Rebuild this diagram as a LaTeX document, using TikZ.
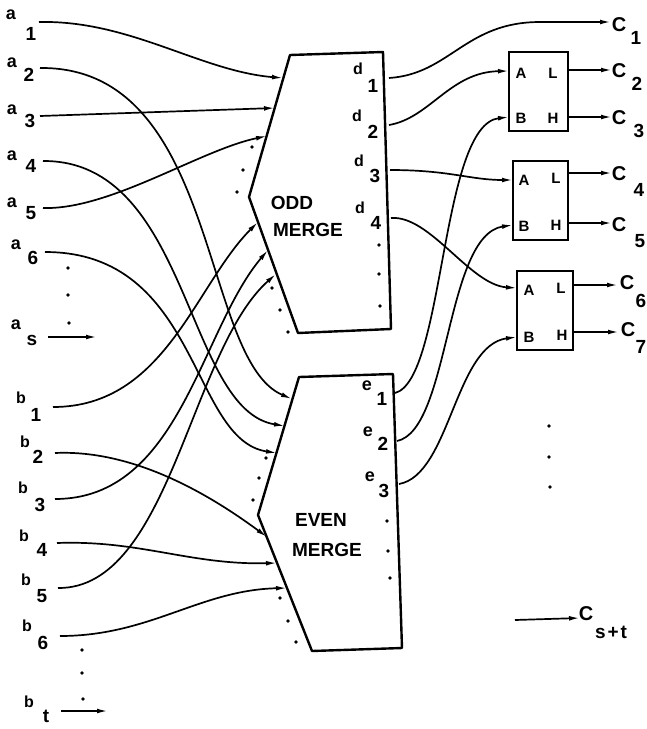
\documentclass[tikz,border=0pt]{standalone}
\usepackage{fontspec}
\setmainfont{Liberation Sans}
\usetikzlibrary{arrows.meta}
\begin{document}
\begin{tikzpicture}[x=1pt,y=-1pt,
  conn/.style={line width=1.7pt},
  arr/.style={conn,-{Latex[length=11pt,width=4.8pt]}},
  mergebox/.style={draw,line width=2.4pt,line join=round},
  cbox/.style={draw,line width=2pt,rectangle,inner sep=0pt},
  lbl/.style={inner sep=0pt,font=\fontsize{16}{16}\selectfont\bfseries},
  smlbl/.style={inner sep=0pt,font=\fontsize{18}{18}\selectfont\bfseries},
  sublbl/.style={inner sep=0pt,font=\fontsize{19}{19}\selectfont\bfseries},
  clbl/.style={inner sep=0pt,font=\fontsize{20}{20}\selectfont\bfseries},
  bigtxt/.style={inner sep=0pt,font=\fontsize{19}{19}\selectfont\bfseries},
  boxl/.style={inner sep=0pt,font=\fontsize{15}{15}\selectfont\bfseries},
  pt/.style={circle,fill,inner sep=0pt,minimum size=3.6pt},
]
\useasboundingbox (0,0) rectangle (647,729);

% ---------- merge blocks ----------
\draw[mergebox] (290,55) -- (383,52) -- (391,329) -- (298,333) -- (249,197) -- cycle;
\draw[mergebox] (299,377) -- (393,374) -- (402,648) -- (312,651) -- (258,515) -- cycle;
\node[bigtxt] (oddt) at (292,203) {ODD};
\node[bigtxt] (oddm) at (308,230) {MERGE};
\node[bigtxt] (event) at (321,520) {EVEN};
\node[bigtxt] (evenm) at (327,550) {MERGE};

% ports of odd merge
\coordinate (oi1) at (283,78);
\coordinate (oi2) at (275,108);
\coordinate (oi3) at (267,136);
\coordinate (oi4) at (258,222);
\coordinate (oi5) at (268,250);
\coordinate (oi6) at (276,274);
\coordinate (d1) at (389,78);
\coordinate (d2) at (389,125);
\coordinate (d3) at (390,170);
\coordinate (d4) at (391,218);
% ports of even merge
\coordinate (ei1) at (292,399);
\coordinate (ei2) at (285,426);
\coordinate (ei3) at (277,453);
\coordinate (ei4) at (267,537);
\coordinate (ei5) at (277,563);
\coordinate (ei6) at (287,588);
\coordinate (e1) at (395,393);
\coordinate (e2) at (397,441);
\coordinate (e3) at (399,484);

% d / e labels
\node[lbl] (ld1) at (358,69) {d};  \node[sublbl] (nd1) at (373,86) {1};
\node[lbl] (ld2) at (357,116) {d}; \node[sublbl] (nd2) at (373,132) {2};
\node[lbl] (ld3) at (359,161) {d}; \node[sublbl] (nd3) at (375,176) {3};
\node[lbl] (ld4) at (360,208) {d}; \node[sublbl] (nd4) at (376,223) {4};
\node[smlbl] (le1) at (367,386) {e};  \node[sublbl] (ne1) at (382,399) {1};
\node[smlbl] (le2) at (368,432) {e};  \node[sublbl] (ne2) at (383,444) {2};
\node[smlbl] (le3) at (370,477) {e};  \node[sublbl] (ne3) at (384,491) {3};

% dots
\foreach \x/\y in {252/147,243/170,237/192,272/288,280/310,288/332,
                   379/245,379/274,380/306,
                   266/458,259/478,253/500,280/598,288/621,296/642,
                   387/521,388/551,390/578,
                   68/268,68/295,69/323,82/650,82/673,83/699,
                   549/426,549/457,550/487}
  \node[pt] at (\x,\y) {};

% ---------- input labels ----------
\node[smlbl] (la1) at (11,15) {a};  \node[sublbl] (na1) at (31,34) {1};
\node[smlbl] (la2) at (12,63) {a};  \node[sublbl] (na2) at (29,75) {2};
\node[smlbl] (la3) at (12,110) {a}; \node[sublbl] (na3) at (30,121) {3};
\node[smlbl] (la4) at (12,156) {a}; \node[sublbl] (na4) at (31,166) {4};
\node[smlbl] (la5) at (12,203) {a}; \node[sublbl] (na5) at (31,213) {5};
\node[smlbl] (la6) at (16,245) {a}; \node[sublbl] (na6) at (33,258) {6};
\node[smlbl] (las) at (16,325) {a}; \node[sublbl] (nas) at (32,340) {s};
\node[lbl] (lb1) at (21,398) {b}; \node[sublbl] (nb1) at (36,415) {1};
\node[lbl] (lb2) at (25,442) {b}; \node[sublbl] (nb2) at (38,457) {2};
\node[lbl] (lb3) at (23,488) {b}; \node[sublbl] (nb3) at (40,505) {3};
\node[lbl] (lb4) at (24,536) {b}; \node[sublbl] (nb4) at (42,550) {4};
\node[lbl] (lb5) at (26,580) {b}; \node[sublbl] (nb5) at (42,596) {5};
\node[lbl] (lb6) at (27,626) {b}; \node[sublbl] (nb6) at (43,643) {6};
\node[lbl] (lbt) at (29,702) {b}; \node[sublbl] (nbt) at (46,716) {t};

\coordinate (a1) at (39,22);
\coordinate (a2) at (40,68);
\coordinate (a3) at (40,116);
\coordinate (a4) at (43,161);
\coordinate (a5) at (43,208);
\coordinate (a6) at (45,252);
\coordinate (as0) at (48,337); \coordinate (as1) at (97,337);
\coordinate (b1) at (53,407);
\coordinate (b2) at (55,453);
\coordinate (b3) at (55,499);
\coordinate (b4) at (57,543);
\coordinate (b5) at (58,588);
\coordinate (b6) at (60,636);
\coordinate (bt0) at (61,711); \coordinate (bt1) at (108,711);

% ---------- input connectors ----------
\draw[arr] (a1) .. controls (130,20) and (200,71) .. (oi1);
\draw[arr] (a2) .. controls (220,66) and (200,360) .. (ei1);
\draw[arr] (a3) -- (oi2);
\draw[arr] (a4) .. controls (190,160) and (185,410) .. (ei2);
\draw[arr] (a5) .. controls (110,210) and (200,150) .. (oi3);
\draw[arr] (a6) .. controls (200,252) and (190,440) .. (ei3);
\draw[arr] (as0) -- (as1);
\draw[arr] (b1) .. controls (165,407) and (195,285) .. (oi4);
\draw[arr] (b2) .. controls (120,450) and (190,480) .. (ei4);
\draw[arr] (b3) .. controls (180,499) and (200,330) .. (oi5);
\draw[arr] (b4) .. controls (140,540) and (190,565) .. (ei5);
\draw[arr] (b5) .. controls (170,589) and (190,350) .. (oi6);
\draw[arr] (b6) .. controls (150,636) and (200,590) .. (ei6);
\draw[arr] (bt0) -- (bt1);

% ---------- comparators ----------
\node[cbox,minimum width=59pt,minimum height=79pt] (k1) at (538.5,91.5) {};
\node[cbox,minimum width=55pt,minimum height=79pt] (k2) at (540.5,200.5) {};
\node[cbox,minimum width=56pt,minimum height=79pt] (k3) at (545,310.5) {};
\node[boxl] (k1a) at (521,73) {A}; \node[boxl] (k1l) at (553,73) {L};
\node[boxl] (k1b) at (521,118) {B}; \node[boxl] (k1h) at (553,118) {H};
\node[boxl] (k2a) at (524,180) {A}; \node[boxl] (k2l) at (556,178) {L};
\node[boxl] (k2b) at (524,226) {B}; \node[boxl] (k2h) at (556,225) {H};
\node[boxl] (k3a) at (529,290) {A}; \node[boxl] (k3l) at (561,288) {L};
\node[boxl] (k3b) at (529,337) {B}; \node[boxl] (k3h) at (562,335) {H};

\coordinate (k1A) at (509,71);  \coordinate (k1B) at (509,117);
\coordinate (k2A) at (513,180); \coordinate (k2B) at (513,225);
\coordinate (k3A) at (517,288); \coordinate (k3B) at (517,337);
\coordinate (k1L) at (568,70);  \coordinate (k1H) at (568,117);
\coordinate (k2L) at (568,173); \coordinate (k2H) at (568,223);
\coordinate (k3L) at (573,285); \coordinate (k3H) at (574,332);

% ---------- outputs ----------
\coordinate (c1) at (611,22);
\coordinate (c2) at (612,70);
\coordinate (c3) at (612,117);
\coordinate (c4) at (612,173);
\coordinate (c5) at (612,223);
\coordinate (c6) at (618,285);
\coordinate (c7) at (619,332);
\coordinate (cst0) at (515,620); \coordinate (cst1) at (580,618);

\node[clbl] (lc1) at (619,25) {C};  \node[sublbl] (nc1) at (636,38) {1};
\node[clbl] (lc2) at (619,71) {C};  \node[sublbl] (nc2) at (637,84) {2};
\node[clbl] (lc3) at (619,118) {C}; \node[sublbl] (nc3) at (639,131) {3};
\node[clbl] (lc4) at (619,174) {C}; \node[sublbl] (nc4) at (639,190) {4};
\node[clbl] (lc5) at (619,225) {C}; \node[sublbl] (nc5) at (640,241) {5};
\node[clbl] (lc6) at (627,283) {C}; \node[sublbl] (nc6) at (641,301) {6};
\node[clbl] (lc7) at (628,330) {C}; \node[sublbl] (nc7) at (641,347) {7};
\node[clbl] (lcst) at (586,614) {C};
\node[sublbl] (ncst) at (611,632) {s\hspace{2pt}+\hspace{2pt}t};

\draw[arr] (d1) .. controls (450,74) and (465,22) .. (540,22) -- (c1);
\draw[arr] (d2) .. controls (430,118) and (450,72) .. (k1A);
\draw[arr] (d3) .. controls (450,170) and (470,180) .. (k2A);
\draw[arr] (d4) .. controls (430,215) and (470,285) .. (k3A);
\draw[arr] (e1) .. controls (445,380) and (440,125) .. (k1B);
\draw[arr] (e2) .. controls (450,430) and (445,235) .. (k2B);
\draw[arr] (e3) .. controls (450,475) and (455,345) .. (k3B);
\draw[arr] (k1L) -- (c2);
\draw[arr] (k1H) -- (c3);
\draw[arr] (k2L) -- (c4);
\draw[arr] (k2H) -- (c5);
\draw[arr] (k3L) -- (c6);
\draw[arr] (k3H) -- (c7);
\draw[arr] (cst0) -- (cst1);
\end{tikzpicture}
\end{document}
